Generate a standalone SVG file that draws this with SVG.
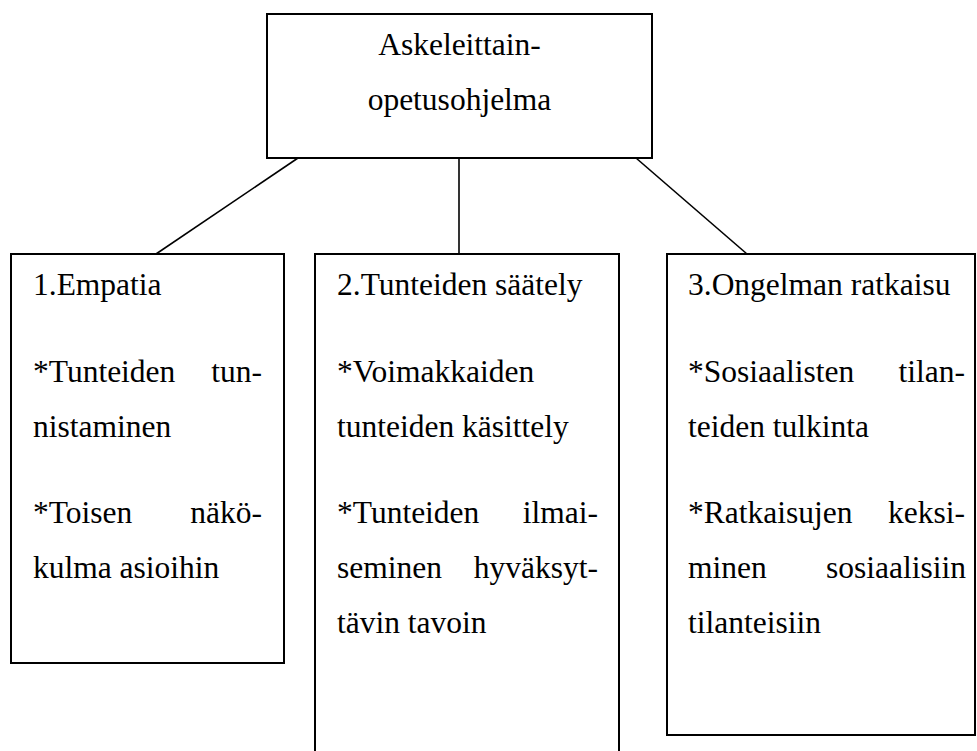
<svg xmlns="http://www.w3.org/2000/svg" width="977" height="751" viewBox="0 0 977 751">
<style>
.box{fill:#fff;stroke:#000;stroke-width:2}
.con{stroke:#000;stroke-width:1.6;fill:none}
text{font-family:'Liberation Serif','Times New Roman',Times,'DejaVu Serif',serif;font-size:31.5px;fill:#000}
.r{text-anchor:end}
.c{text-anchor:middle}
</style>
<rect width="977" height="751" fill="#fff"/>
<g id="connectors">
<line class="con" x1="298" y1="158" x2="156" y2="254"/>
<line class="con" x1="459" y1="158" x2="459" y2="254"/>
<line class="con" x1="636" y1="158" x2="747" y2="254"/>
</g>
<g id="root">
<rect class="box" x="267" y="14" width="385" height="144"/>
<text class="c" x="459.5" y="55">Askeleittain-</text>
<text class="c" x="459.5" y="110">opetusohjelma</text>
</g>
<g id="empatia">
<rect class="box" x="11" y="254" width="273" height="409"/>
<text x="33" y="295">1.Empatia</text>
<text x="33" y="382">*Tunteiden</text>
<text class="r" x="262" y="382">tun-</text>
<text x="33" y="437">nistaminen</text>
<text x="33" y="523">*Toisen</text>
<text class="r" x="262" y="523">näkö-</text>
<text x="33" y="578">kulma asioihin</text>
</g>
<g id="saately">
<rect class="box" x="315" y="254" width="304" height="510"/>
<text x="337" y="295">2.Tunteiden säätely</text>
<text x="337" y="382">*Voimakkaiden</text>
<text x="337" y="437">tunteiden käsittely</text>
<text x="337" y="523">*Tunteiden</text>
<text class="r" x="598" y="523">ilmai-</text>
<text x="337" y="578">seminen</text>
<text class="r" x="598" y="578">hyväksyt-</text>
<text x="337" y="633">tävin tavoin</text>
</g>
<g id="ongelma">
<rect class="box" x="667" y="254" width="308" height="481"/>
<text x="688" y="295">3.Ongelman ratkaisu</text>
<text x="688" y="382">*Sosiaalisten</text>
<text class="r" x="965" y="382">tilan-</text>
<text x="688" y="437">teiden tulkinta</text>
<text x="688" y="523">*Ratkaisujen</text>
<text class="r" x="965" y="523">keksi-</text>
<text x="688" y="578">minen</text>
<text class="r" x="966" y="578">sosiaalisiin</text>
<text x="688" y="633">tilanteisiin</text>
</g>
</svg>
